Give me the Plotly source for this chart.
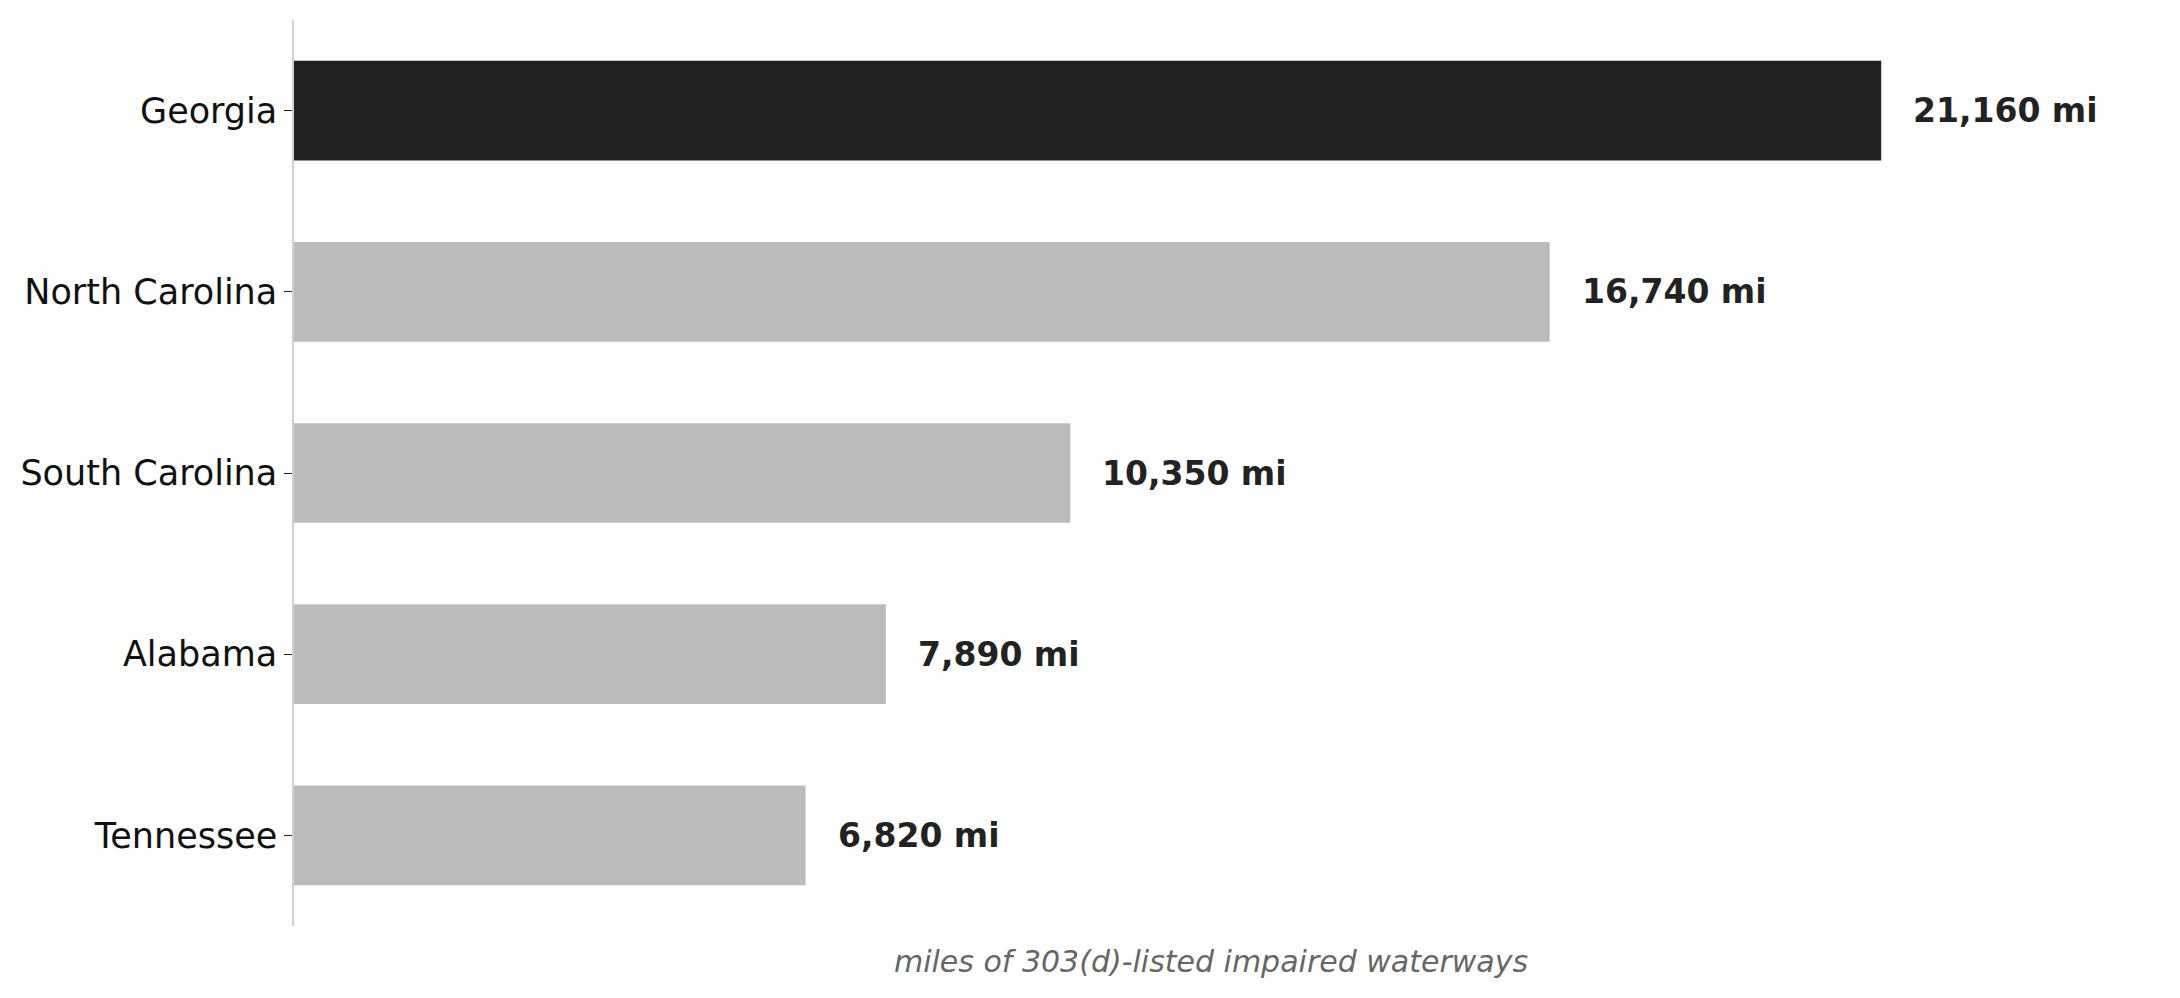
import plotly.graph_objects as go

# -- Daten ---------------------------------------------------------------------
states = ["Georgia", "North Carolina", "South Carolina", "Alabama", "Tennessee"]
miles = [21160, 16740, 10350, 7890, 6820]
labels = ["21,160 mi", "16,740 mi", "10,350 mi", "7,890 mi", "6,820 mi"]

colors = ["#222222" if s == "Georgia" else "#bbbbbb" for s in states]

fig = go.Figure()
fig.add_trace(go.Bar(
    x=miles, y=states, orientation="h",
    marker=dict(color=colors, line=dict(width=0)),
    width=0.55, hoverinfo="skip",
))

for s, v, t in zip(states, miles, labels):
    fig.add_annotation(x=v, y=s, text=t, showarrow=False, xanchor="left",
                       xshift=30, font=dict(size=33, color="#222222",
                                            family="DejaVu Sans", weight="bold"))

fig.update_layout(
    width=2180, height=998, plot_bgcolor="white", paper_bgcolor="white",
    margin=dict(l=277, r=60, t=12, b=80),
    showlegend=False,
    font=dict(family="DejaVu Sans", color="#111111"),
    xaxis=dict(range=[0, 24450], showticklabels=False, showgrid=False,
               zeroline=False, ticks="",
               title=dict(text="<i>miles of 303(d)-listed impaired waterways</i>",
                          font=dict(size=30, color="#666666"), standoff=24)),
    yaxis=dict(autorange=False, range=[4.5, -0.5], showgrid=False, zeroline=False,
               showline=True, linecolor="#d0d0d0", linewidth=1.5,
               ticks="outside", ticklen=8, tickcolor="#222222",
               tickfont=dict(size=35, color="#111111")),
)

fig.write_html("out.html")
